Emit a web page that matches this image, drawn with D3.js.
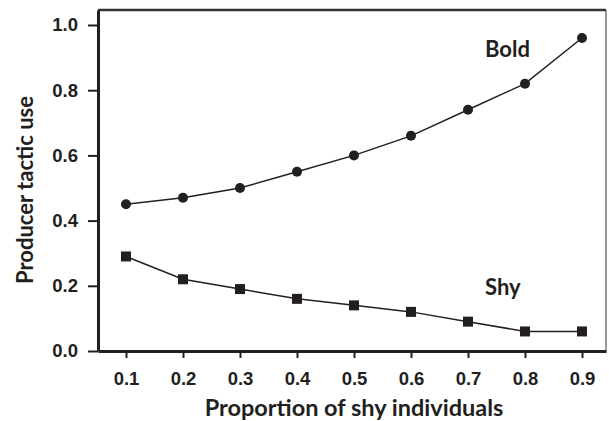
<!DOCTYPE html>
<html>
<head>
<meta charset="utf-8">
<script src="https://cdn.jsdelivr.net/npm/d3@7"></script>
<style>
	body { margin: 0; background: #fff; }
	svg { display: block; }
</style>
</head>
<body>
<div class="canvas"></div>
<script>
// data
const proportions = [0.1, 0.2, 0.3, 0.4, 0.5, 0.6, 0.7, 0.8, 0.9];
const boldUse = [0.45, 0.47, 0.50, 0.55, 0.60, 0.66, 0.74, 0.82, 0.96];
const shyUse = [0.29, 0.22, 0.19, 0.16, 0.14, 0.12, 0.09, 0.06, 0.06];
const yTicks = [0.0, 0.2, 0.4, 0.6, 0.8, 1.0];

const dims = { width: 609, height: 421 };
const plot = { left: 98, right: 606, top: 10, bottom: 351 };
const ink = '#231f20';

const svg = d3.select('.canvas').append('svg')
	.attr('width', dims.width)
	.attr('height', dims.height);

const x = d3.scaleLinear()
	.domain([0.0509, 0.9421])
	.range([plot.left, plot.right]);

const y = d3.scaleLinear()
	.domain([0, 1.046])
	.range([plot.bottom, plot.top]);

// frame: top + right
svg.append('line')
	.attr('x1', plot.left).attr('x2', plot.right)
	.attr('y1', plot.top).attr('y2', plot.top)
	.attr('stroke', '#333').attr('stroke-width', 2.5);
svg.append('line')
	.attr('x1', plot.right).attr('x2', plot.right)
	.attr('y1', plot.top).attr('y2', plot.bottom)
	.attr('stroke', '#555').attr('stroke-width', 1.2);

// axes
const xAxis = d3.axisBottom(x)
	.tickValues(proportions)
	.tickFormat(d3.format('.1f'))
	.tickSize(7)
	.tickSizeOuter(0)
	.tickPadding(14);

const yAxis = d3.axisLeft(y)
	.tickValues(yTicks)
	.tickFormat(d3.format('.1f'))
	.tickSize(10)
	.tickSizeOuter(0)
	.tickPadding(10);

const gx = svg.append('g')
	.attr('transform', `translate(0, ${plot.bottom})`)
	.call(xAxis);

const gy = svg.append('g')
	.attr('transform', `translate(${plot.left}, 0)`)
	.call(yAxis);

[gx, gy].forEach(g => {
	g.select('.domain').attr('stroke', ink).attr('stroke-width', 3);
	g.selectAll('.tick line').attr('stroke', ink).attr('stroke-width', 2);
	g.selectAll('.tick text')
		.attr('fill', ink)
		.style('font-family', '"Liberation Sans", Arial, sans-serif')
		.style('font-weight', 'bold')
		.style('font-size', '18.5px');
});

// axis titles
const titleStyle = (sel, size) => sel
	.attr('fill', ink)
	.style('font-family', 'Lato, "Open Sans", sans-serif')
	.style('font-weight', 'bold')
	.style('font-size', size + 'px');

svg.append('text')
	.attr('x', 354)
	.attr('y', 416)
	.attr('text-anchor', 'middle')
	.text('Proportion of shy individuals')
	.call(titleStyle, 23.5);

svg.append('text')
	.attr('transform', `translate(33, 190) rotate(-90)`)
	.attr('text-anchor', 'middle')
	.text('Producer tactic use')
	.call(titleStyle, 22);

// series
const line = d3.line()
	.x((d, i) => x(proportions[i]))
	.y(d => y(d));

svg.append('path')
	.attr('d', line(boldUse))
	.attr('fill', 'none')
	.attr('stroke', ink)
	.attr('stroke-width', 1.5);

svg.append('path')
	.attr('d', line(shyUse))
	.attr('fill', 'none')
	.attr('stroke', ink)
	.attr('stroke-width', 1.5);

svg.selectAll('circle.bold')
	.data(boldUse)
	.enter().append('circle')
	.attr('class', 'bold')
	.attr('cx', (d, i) => x(proportions[i]))
	.attr('cy', d => y(d))
	.attr('r', 5)
	.attr('fill', ink);

const sq = 10;
svg.selectAll('rect.shy')
	.data(shyUse)
	.enter().append('rect')
	.attr('class', 'shy')
	.attr('x', (d, i) => x(proportions[i]) - sq / 2)
	.attr('y', d => y(d) - sq / 2)
	.attr('width', sq)
	.attr('height', sq)
	.attr('fill', ink);

// series labels
svg.append('text')
	.attr('x', 485).attr('y', 57)
	.text('Bold')
	.call(titleStyle, 22);

svg.append('text')
	.attr('x', 485).attr('y', 295)
	.text('Shy')
	.call(titleStyle, 22);
</script>
</body>
</html>
